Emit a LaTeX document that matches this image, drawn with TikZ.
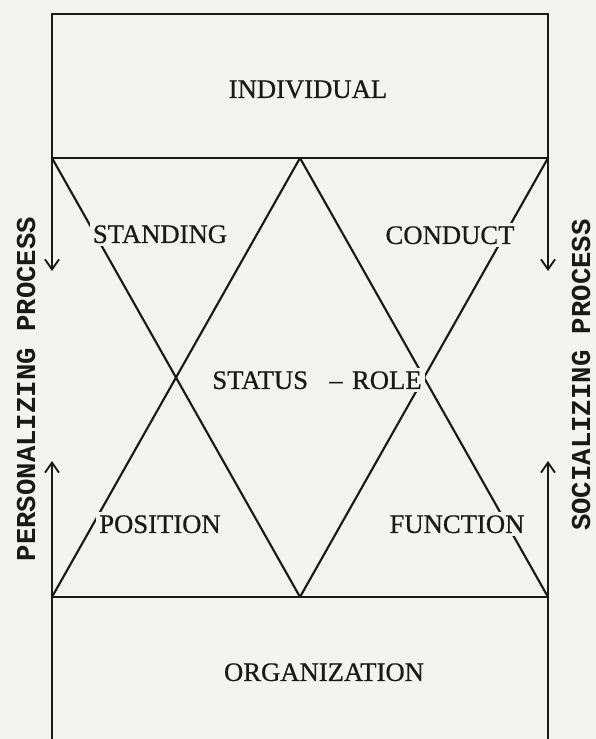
\documentclass[tikz,border=0pt]{standalone}
\usepackage{fontspec}
\setmainfont{Liberation Serif}
\newfontfamily\labelfont{Liberation Serif}[FakeBold=0.6]
\newfontfamily\typefont{Liberation Mono}
\usetikzlibrary{arrows.meta}
\definecolor{paper}{RGB}{243,243,241}
\definecolor{ink}{RGB}{25,25,25}
\begin{document}
\begin{tikzpicture}[x=0.75pt,y=-0.75pt, line width=1.6pt, draw=ink,
  lbl/.style={fill=paper, inner sep=2.5pt, text=ink, text height=13.4pt, text depth=0pt,
    font=\labelfont\fontsize{20}{24}\selectfont},
  sidetext/.style={rotate=90, text=ink, inner sep=0pt,
    font=\typefont\bfseries\fontsize{20.5}{24}\selectfont},
  flow/.style={-{Straight Barb[length=7.5pt,width=10.5pt,line width=1.4pt]}}]
\fill[paper] (0,0) rectangle (596,739);
\useasboundingbox (0,0) rectangle (596,739);
% frame points
\coordinate (tl) at (52,14);
\coordinate (tr) at (548,14);
\coordinate (ml) at (52,158);
\coordinate (mc) at (300,158);
\coordinate (mr) at (548,158);
\coordinate (bl) at (52,597);
\coordinate (bc) at (300,597);
\coordinate (br) at (548,597);
\coordinate (el) at (52,739);
\coordinate (er) at (548,739);
\coordinate (dl) at (52,271);
\coordinate (ul) at (52,461);
\coordinate (dr) at (548,271);
\coordinate (ur) at (548,461);
% boxes
\draw (ml) -- (tl) -- (tr) -- (mr) -- cycle;
\draw (el) -- (bl) -- (br) -- (er);
% crossing lines
\draw (ml) -- (bc);
\draw (mc) -- (bl);
\draw (mc) -- (br);
\draw (mr) -- (bc);
% process arrows
\draw[flow] (ml) -- (dl);
\draw[flow] (bl) -- (ul);
\draw[flow] (mr) -- (dr);
\draw[flow] (br) -- (ur);
% labels
\node[lbl] (indiv) at (308,89) {INDIVIDUAL};
\node[lbl] (stand) at (160,234) {STANDING};
\node[lbl] (cond) at (450,235) {CONDUCT};
\node[lbl] (status) at (317,380) {STATUS\hspace{16pt}\textendash\hspace{7pt}ROLE};
\node[lbl] (pos) at (160,524) {POSITION};
\node[lbl] (func) at (457,524) {FUNCTION};
\node[lbl] (org) at (324,672) {ORGANIZATION};
\node[sidetext] (pers) at (26,389) {PERSONALIZING PROCESS};
\node[sidetext] (soc) at (581,375) {SOCIALIZING PROCESS};
\end{tikzpicture}
\end{document}
